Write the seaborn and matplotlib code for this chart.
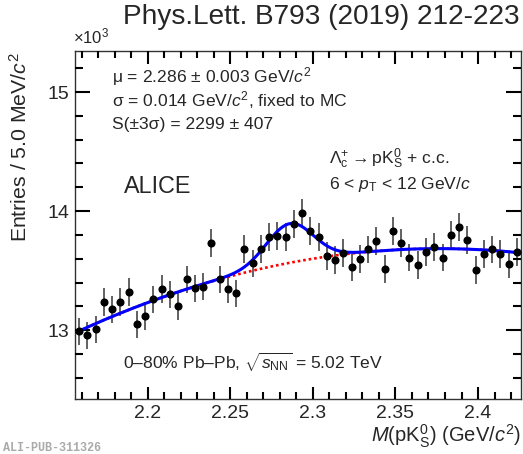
import numpy as np
import pandas as pd
import matplotlib
matplotlib.use("Agg")
import matplotlib.pyplot as plt
from matplotlib.ticker import MultipleLocator, FuncFormatter
import seaborn as sns

# ---------------- data ----------------
mass_centers = [2.1585, 2.1635, 2.1685, 2.1735, 2.1785, 2.1835, 2.1885, 2.1935, 2.1985, 2.2035,
                2.2085, 2.2135, 2.2185, 2.2235, 2.2285, 2.2335, 2.2385, 2.2435, 2.2485, 2.2535,
                2.2585, 2.2635, 2.2685, 2.2735, 2.2785, 2.2835, 2.2885, 2.2935, 2.2985, 2.3035,
                2.3085, 2.3135, 2.3185, 2.3235, 2.3285, 2.3335, 2.3385, 2.3435, 2.3485, 2.3535,
                2.3585, 2.3635, 2.3685, 2.3735, 2.3785, 2.3835, 2.3885, 2.3935, 2.3985, 2.4035,
                2.4085, 2.4135, 2.4185, 2.4235]
entries = [12990, 12958, 13008, 13238, 13176, 13238, 13319, 13050, 13118, 13258,
           13345, 13300, 13200, 13426, 13350, 13366, 13734, 13426, 13342, 13308,
           13683, 13560, 13683, 13779, 13790, 13784, 13890, 13986, 13834, 13784,
           13620, 13588, 13650, 13527, 13600, 13678, 13750, 13515, 13834, 13734,
           13610, 13550, 13655, 13695, 13610, 13800, 13866, 13756, 13504, 13641,
           13678, 13641, 13552, 13658]

# fit results (signal: gaussian, background: 2nd order polynomial)
fit_mu = 2.286
fit_sigma = 0.014
fit_signal = 2299
bin_width = 0.005
bkg_p0 = 13566.0   # value at mu
bkg_p1 = 2633.0    # slope (counts / GeV)
bkg_p2 = -14590.0  # curvature (counts / GeV^2)
fit_range = (2.157, 2.4255)

y_ticks = [13000, 14000, 15000]
x_ticks = [2.2, 2.25, 2.3, 2.35, 2.4]

df = pd.DataFrame({"mass": mass_centers, "entries": entries})
df["err"] = np.sqrt(df["entries"])

m = np.linspace(fit_range[0], fit_range[1], 600)
bkg = bkg_p0 + bkg_p1 * (m - fit_mu) + bkg_p2 * (m - fit_mu) ** 2
amp = fit_signal * bin_width / (np.sqrt(2 * np.pi) * fit_sigma) / 0.9973
tot = bkg + amp * np.exp(-0.5 * ((m - fit_mu) / fit_sigma) ** 2)
curves = pd.DataFrame({"m": m, "bkg": bkg, "tot": tot})

# ---------------- style ----------------
sns.set_theme(style="ticks", rc={"axes.axisbelow": False})
plt.rcParams["font.family"] = ["Liberation Sans", "DejaVu Sans"]
plt.rcParams["mathtext.fontset"] = "custom"
plt.rcParams["mathtext.rm"] = "Liberation Sans"
plt.rcParams["mathtext.it"] = "Liberation Sans:italic"
plt.rcParams["mathtext.bf"] = "Liberation Sans:bold"
plt.rcParams["axes.unicode_minus"] = False

fig = plt.figure(figsize=(5.23, 4.54), dpi=100)
ax = fig.add_axes([75 / 523, 1 - 398.5 / 454, (521 - 75) / 523, (398.5 - 50.7) / 454])

ax.errorbar(df["mass"], df["entries"], yerr=df["err"], fmt="none",
            ecolor="#555555", elinewidth=1.3, capsize=0, zorder=2)
sns.lineplot(data=curves, x="m", y="bkg", ax=ax, color="#ff0000", lw=1.9,
             dashes=False, zorder=3)
ax.lines[-1].set_linestyle((0, (1.0, 1.1)))
sns.lineplot(data=curves, x="m", y="tot", ax=ax, color="#0000ff", lw=2.2, zorder=4)
sns.scatterplot(data=df, x="mass", y="entries", ax=ax, color="black", s=34,
                edgecolor="black", linewidth=0, zorder=5)

ax.set_xlim(2.156, 2.426)
ax.set_ylim(12426, 15347)
ax.set_xticks(x_ticks)
ax.set_xticklabels([f"{v:g}" for v in x_ticks])
ax.xaxis.set_minor_locator(MultipleLocator(0.01))
ax.set_yticks(y_ticks)
ax.yaxis.set_major_formatter(FuncFormatter(lambda v, p: f"{v/1000:.0f}"))
ax.yaxis.set_minor_locator(MultipleLocator(200))
ax.set_xlabel("")
ax.set_ylabel("")
ax.set_axisbelow(False)

for s in ax.spines.values():
    s.set_color("#333333")
    s.set_linewidth(1.0)
ax.tick_params(which="both", direction="in", top=True, right=True, bottom=True, left=True,
               color="black", width=1.5)
ax.tick_params(axis="x", which="major", length=9, pad=5, labelsize=14)
ax.tick_params(axis="x", which="minor", length=5)
ax.tick_params(axis="y", which="major", length=11, pad=4, labelsize=14)
ax.tick_params(axis="y", which="minor", length=6)

# ---------------- texts ----------------
fig.text(520 / 523, 1 - 17 / 454, "Phys.Lett. B793 (2019) 212-223", ha="right", va="center", fontsize=20.2)
fig.text(73 / 523, 1 - 36 / 454, r"$\times$10$^{3}$", ha="left", va="center", fontsize=12)
fig.text(20 / 523, 1 - 52 / 454, r"Entries / 5.0 MeV/$c^{2}$", rotation=90, ha="center", va="top", fontsize=15.3)
fig.text(521 / 523, 1 - 436 / 454, r"$M({\rm pK}^{0}_{\rm S})$ (GeV/$c^{2}$)", ha="right", va="center", fontsize=14.5)
fig.text(3 / 523, 1 - 448 / 454, "ALI-PUB-311326", ha="left", va="center", fontsize=8.5,
         family="Liberation Mono", weight="bold", color="#aaaaaa")

fs = 12.6
fig.text(112 / 523, 1 - 76.5 / 454, r"μ = 2.286 ± 0.003 GeV/$c^{2}$", ha="left", va="center", fontsize=fs)
fig.text(112 / 523, 1 - 100.5 / 454, r"σ = 0.014 GeV/$c^{2}$, fixed to MC", ha="left", va="center", fontsize=fs)
fig.text(112 / 523, 1 - 124 / 454, r"S(±3σ) = 2299 ± 407", ha="left", va="center", fontsize=fs)
fig.text(329 / 523, 1 - 159 / 454, r"$\Lambda_{\rm c}^{+}\rightarrow{\rm pK}^{0}_{\rm S}$ + c.c.", ha="left", va="center", fontsize=fs)
fig.text(329 / 523, 1 - 184 / 454, r"6 < $p_{\rm T}$ < 12 GeV/$c$", ha="left", va="center", fontsize=fs)
fig.text(124 / 523, 1 - 186 / 454, "ALICE", ha="left", va="center", fontsize=16.8)
fig.text(123 / 523, 1 - 362 / 454, r"0–80% Pb–Pb, $\sqrt{s_{\rm NN}}$ = 5.02 TeV", ha="left", va="center", fontsize=fs)

fig.savefig("out.png", dpi=100)
